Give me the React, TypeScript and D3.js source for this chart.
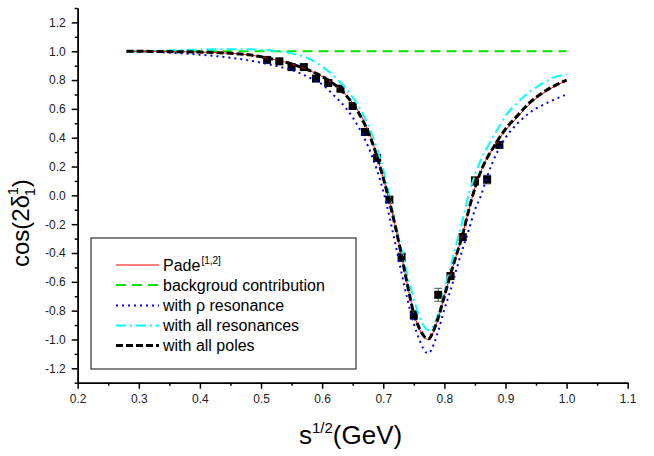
import { useRef, useEffect } from 'react';
import * as d3 from 'd3';

// shared abscissa grid for the theory curves, sqrt(s) in GeV
const curveX = [0.28, 0.32, 0.36, 0.40, 0.44, 0.48, 0.52, 0.55, 0.58, 0.60, 0.62, 0.64, 0.66, 0.68, 0.70, 0.72, 0.73, 0.74, 0.75, 0.76, 0.77, 0.775, 0.78, 0.79, 0.80, 0.81, 0.82, 0.83, 0.84, 0.85, 0.86, 0.87, 0.88, 0.89, 0.90, 0.92, 0.94, 0.96, 0.98, 1.00];

const padeY = [1.0, 0.999, 0.997, 0.994, 0.988, 0.975, 0.945, 0.912, 0.865, 0.825, 0.77, 0.69, 0.58, 0.40, 0.12, -0.22, -0.42, -0.63, -0.82, -0.935, -0.995, -1.0, -0.965, -0.855, -0.70, -0.55, -0.41, -0.27, -0.10, 0.05, 0.17, 0.26, 0.33, 0.395, 0.45, 0.545, 0.635, 0.705, 0.755, 0.80];
const backgroundY = [1, 1, 1, 1, 1, 1, 1, 1, 1, 1, 1, 1, 1, 1, 1, 1, 1, 1, 1, 1, 1, 1, 1, 1, 1, 1, 1, 1, 1, 1, 1, 1, 1, 1, 1, 1, 1, 1, 1, 1];
const rhoY = [1.0, 0.996, 0.988, 0.976, 0.96, 0.937, 0.902, 0.87, 0.815, 0.77, 0.69, 0.60, 0.47, 0.29, 0.03, -0.34, -0.54, -0.73, -0.89, -1.01, -1.09, -1.095, -1.06, -0.94, -0.79, -0.66, -0.51, -0.37, -0.24, -0.10, 0.0, 0.13, 0.24, 0.33, 0.40, 0.50, 0.575, 0.625, 0.665, 0.70];
const allResY = [1.0, 1.002, 1.006, 1.011, 1.014, 1.013, 1.004, 0.985, 0.945, 0.895, 0.825, 0.735, 0.615, 0.44, 0.18, -0.20, -0.38, -0.56, -0.72, -0.85, -0.925, -0.935, -0.92, -0.82, -0.66, -0.50, -0.33, -0.17, 0.01, 0.14, 0.25, 0.33, 0.41, 0.48, 0.55, 0.645, 0.72, 0.775, 0.82, 0.84];
const polesY = [1.0, 0.999, 0.997, 0.994, 0.988, 0.975, 0.945, 0.912, 0.865, 0.825, 0.77, 0.69, 0.57, 0.39, 0.12, -0.22, -0.42, -0.63, -0.82, -0.93, -0.99, -0.995, -0.96, -0.85, -0.70, -0.55, -0.41, -0.27, -0.10, 0.05, 0.17, 0.26, 0.33, 0.40, 0.46, 0.555, 0.645, 0.71, 0.76, 0.80];

// experimental points
const dataX = [0.51, 0.53, 0.55, 0.57, 0.59, 0.61, 0.63, 0.65, 0.67, 0.69, 0.71, 0.73, 0.75, 0.79, 0.81, 0.83, 0.85, 0.87, 0.89];
const dataY = [0.94, 0.93, 0.89, 0.89, 0.81, 0.78, 0.74, 0.62, 0.44, 0.26, -0.03, -0.43, -0.83, -0.69, -0.56, -0.29, 0.10, 0.11, 0.35];
const dataErr = [0.01, 0.01, 0.015, 0.015, 0.015, 0.015, 0.015, 0.02, 0.02, 0.02, 0.02, 0.03, 0.03, 0.045, 0.02, 0.02, 0.03, 0.03, 0.02];

const xTicks = [0.2, 0.3, 0.4, 0.5, 0.6, 0.7, 0.8, 0.9, 1.0, 1.1];
const xMinor = [0.25, 0.35, 0.45, 0.55, 0.65, 0.75, 0.85, 0.95, 1.05];
const yTicks = [-1.2, -1.0, -0.8, -0.6, -0.4, -0.2, 0.0, 0.2, 0.4, 0.6, 0.8, 1.0, 1.2];
const yMinor = [-1.3, -1.1, -0.9, -0.7, -0.5, -0.3, -0.1, 0.1, 0.3, 0.5, 0.7, 0.9, 1.1, 1.3];

const series = [
  { key: 'pade', ys: padeY, color: '#ff0000', width: 1, dash: '' },
  { key: 'bg', ys: backgroundY, color: '#00e600', width: 2, dash: '10,6' },
  { key: 'rho', ys: rhoY, color: '#0000ff', width: 2, dash: '2,4' },
  { key: 'allres', ys: allResY, color: '#00ffff', width: 2, dash: '10,4,2,4' },
  { key: 'poles', ys: polesY, color: '#000000', width: 3, dash: '7,3' },
];

const FONT = '"Liberation Sans", Arial, Helvetica, sans-serif';

export default function App() {
  const svgRef = useRef<SVGSVGElement>(null);

  useEffect(() => {
    if (!svgRef.current) return;
    const svg = d3.select(svgRef.current);
    svg.selectAll('*').remove();

    const x = d3.scaleLinear().domain([0.2, 1.1]).range([77.7, 627.7]);
    const y = d3.scaleLinear().domain([-1.3, 1.3]).range([382.7, 8]);

    // data points with error bars
    const pts = svg.append('g');
    dataX.forEach((dx, i) => {
      const cx = x(dx);
      const top = y(dataY[i] + dataErr[i]);
      const bot = y(dataY[i] - dataErr[i]);
      pts.append('line').attr('x1', cx).attr('x2', cx).attr('y1', top).attr('y2', bot)
        .attr('stroke', '#555').attr('stroke-width', 1);
      [top, bot].forEach((yy) => {
        pts.append('line').attr('x1', cx - 4).attr('x2', cx + 4).attr('y1', yy).attr('y2', yy)
          .attr('stroke', '#555').attr('stroke-width', 1);
      });
      pts.append('rect')
        .attr('x', cx - 4).attr('y', y(dataY[i]) - 4)
        .attr('width', 8).attr('height', 8)
        .attr('fill', '#000');
    });

    // curves
    const order = ['bg', 'rho', 'allres', 'pade', 'poles'];
    order.forEach((k) => {
      const s = series.find((d) => d.key === k)!;
      const line = d3.line<number>()
        .x((_, i) => x(curveX[i]))
        .y((d) => y(d))
        .curve(d3.curveMonotoneX);
      svg.append('path')
        .datum(s.ys)
        .attr('d', line)
        .attr('fill', 'none')
        .attr('stroke', s.color)
        .attr('stroke-width', s.width)
        .attr('stroke-dasharray', s.dash || null);
    });

    // axes
    const styleAxis = (g: d3.Selection<SVGGElement, unknown, null, undefined>) => {
      g.select('.domain').attr('stroke', '#000').attr('stroke-width', 1.5);
      g.selectAll('line').attr('stroke', '#000').attr('stroke-width', 1.5);
      g.selectAll('text').attr('fill', '#222').style('font-size', '12px').style('font-family', FONT);
    };

    svg.append('g')
      .attr('transform', 'translate(0,382.7)')
      .call(d3.axisBottom(x).tickValues(xMinor).tickSize(3).tickSizeOuter(0).tickFormat(() => ''))
      .call(styleAxis);
    svg.append('g')
      .attr('transform', 'translate(0,382.7)')
      .call(d3.axisBottom(x).tickValues(xTicks).tickSize(6).tickSizeOuter(0).tickPadding(6).tickFormat((d) => (d as number).toFixed(1)))
      .call(styleAxis);

    svg.append('g')
      .attr('transform', 'translate(77.7,0)')
      .call(d3.axisLeft(y).tickValues(yMinor).tickSize(3).tickSizeOuter(0).tickFormat(() => ''))
      .call(styleAxis);
    svg.append('g')
      .attr('transform', 'translate(77.7,0)')
      .call(d3.axisLeft(y).tickValues(yTicks).tickSize(6).tickSizeOuter(0).tickPadding(6).tickFormat((d) => (d as number).toFixed(1)))
      .call(styleAxis);

    // axis titles
    const xt = svg.append('text')
      .attr('x', 299).attr('y', 444)
      .style('font-family', FONT).style('font-size', '26px').attr('fill', '#000');
    xt.append('tspan').text('s');
    xt.append('tspan').attr('dy', -11).style('font-size', '15px').text('1/2');
    xt.append('tspan').attr('dy', 11).text('(GeV)');

    const yt = svg.append('text')
      .attr('transform', 'translate(28.5,267) rotate(-90)')
      .style('font-family', FONT).style('font-size', '24px').attr('fill', '#000');
    yt.append('tspan').text('cos(2δ');
    yt.append('tspan').attr('dy', -11).style('font-size', '14px').text('1');
    yt.append('tspan').attr('dx', -7.8).attr('dy', 17).style('font-size', '14px').text('1');
    yt.append('tspan').attr('dx', 1).attr('dy', -6).text(')');

    // legend
    const lg = svg.append('g');
    lg.append('rect')
      .attr('x', 91).attr('y', 238).attr('width', 265).attr('height', 131)
      .attr('fill', '#fff').attr('stroke', '#333').attr('stroke-width', 1.2);
    const labels: Record<string, string> = {
      pade: 'Pade',
      bg: 'backgroud contribution',
      rho: 'with ρ resonance',
      allres: 'with all resonances',
      poles: 'with all poles',
    };
    const rowY = [265, 285, 305.5, 325.5, 345.5];
    series.forEach((s, i) => {
      const yy = rowY[i];
      lg.append('line')
        .attr('x1', 116).attr('x2', 159).attr('y1', yy).attr('y2', yy)
        .attr('stroke', s.color).attr('stroke-width', s.width)
        .attr('stroke-dasharray', s.dash || null);
      const t = lg.append('text')
        .attr('x', 163).attr('y', yy + 5.8)
        .style('font-family', FONT).style('font-size', '16px').attr('fill', '#000');
      t.append('tspan').text(labels[s.key]);
      if (s.key === 'pade') {
        t.append('tspan').attr('dx', 1).attr('dy', -7).style('font-size', '10px').text('[1,2]');
      }
    });
  }, []);

  return (
    <svg
      ref={svgRef}
      width={654}
      height={456}
      style={{ position: 'absolute', left: 0, top: 0, background: '#fff' }}
    />
  );
}
